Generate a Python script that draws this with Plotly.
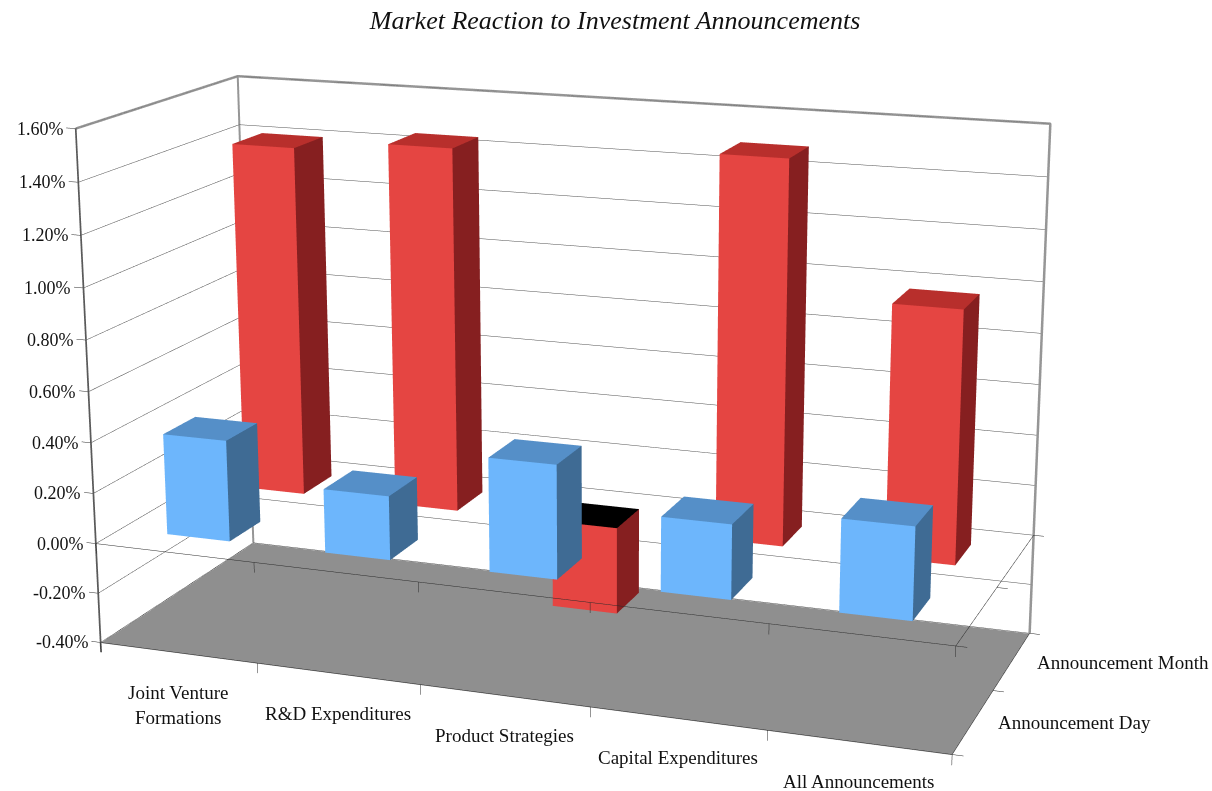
import math
import plotly.graph_objects as go

categories = ["Joint Venture<br>Formations", "R&D Expenditures", "Product Strategies", "Capital Expenditures", "All Announcements"]
series_names = ["Announcement Day", "Announcement Month"]
day_values = [0.40, 0.25, 0.44, 0.285, 0.35]
month_values = [1.41, 1.45, -0.35, 1.495, 0.98]
z_ticks = [-0.4, -0.2, 0.0, 0.2, 0.4, 0.6, 0.8, 1.0, 1.2, 1.4, 1.6]

W, H = 1212, 791
FOCAL = 2900
EYE = (1.111, -2.961, 0.85)
CENTER = (0.043, 0.013, -0.008)
XR, YR, ZR = [-0.1, 5.1], [-0.1, 2.1], [-0.5, 1.7]
ASPECT = (1*5.2/5, 0.392*1.1, 0.598*1.1)
NCAT, NSER = len(categories), len(series_names)
ZLO, ZHI = z_ticks[0], z_ticks[-1]
TX, TZ = 0.06, 0.04  # tick lengths

def box(xc, yc, v):
    w = 0.2
    x0,x1,y0,y1 = xc-w,xc+w,yc-w,yc+w
    z0,z1 = min(0,v),max(0,v)
    xs=[x0,x1,x1,x0,x0,x1,x1,x0]; ys=[y0,y0,y1,y1,y0,y0,y1,y1]; zs=[z0,z0,z0,z0,z1,z1,z1,z1]
    i=[0,0,1,1,4,4]; j=[1,5,2,6,5,6]; k=[5,4,6,5,6,7]
    return xs,ys,zs,i,j,k

LIGHT=dict(ambient=1,diffuse=0,specular=0,fresnel=0,roughness=1)
def bars(values, yc, front, side, top, name, top_neg="#000000"):
    X,Y,Z,I,J,K,C=[],[],[],[],[],[],[]
    for n,v in enumerate(values):
        xs,ys,zs,i,j,k=box(n+0.5,yc,v)
        o=len(X); X+=xs;Y+=ys;Z+=zs;I+=[a+o for a in i];J+=[a+o for a in j];K+=[a+o for a in k]
        C+=[front,front,side,side,top if v>=0 else top_neg,top if v>=0 else top_neg]
    return go.Mesh3d(x=X,y=Y,z=Z,i=I,j=J,k=K,facecolor=C,flatshading=True,name=name,hoverinfo="skip",lighting=LIGHT)
def line(xs,ys,zs,color,width):
    return go.Scatter3d(x=xs,y=ys,z=zs,mode="lines",line=dict(color=color,width=width),hoverinfo="skip",showlegend=False)

fig=go.Figure()
# floor
fz=ZLO-0.002
fig.add_trace(go.Mesh3d(x=[0,NCAT,NCAT,0],y=[0,0,NSER,NSER],z=[fz]*4,i=[0,0],j=[1,2],k=[2,3],facecolor=["#8F8F8F"]*2,flatshading=True,hoverinfo="skip",lighting=LIGHT))
# gridlines on the two walls
GR="#505050"
for t in z_ticks:
    fig.add_trace(line([0,0,NCAT],[0,NSER,NSER],[t,t,t],GR,1))
fig.add_trace(bars(month_values,1.5,"#E54542","#861F20","#B82F2C",series_names[1]))
fig.add_trace(bars(day_values,0.5,"#6DB6FC","#3F6B94","#558FC8",series_names[0]))
G="#969696"
fig.add_trace(line([0,0,NCAT,NCAT],[0,NSER,NSER,NSER],[ZHI,ZHI,ZHI,ZLO],G,5))
fig.add_trace(line([0,0],[NSER,NSER],[ZHI,ZLO],G,4))
fig.add_trace(line([0,0],[0,0],[ZHI,ZLO-TZ],"#5A5A5A",3.5))
D="#2A2A2A"
fig.add_trace(line([0,NCAT,NCAT],[0,0,NSER],[0,0,0],D,1))
fig.add_trace(line([0,NCAT,NCAT],[0,0,NSER],[ZLO,ZLO,ZLO],D,1))
for n in range(NCAT+1):
    fig.add_trace(line([n,n],[0,0],[0,-TZ],D,1))
    fig.add_trace(line([n,n],[0,0],[ZLO,ZLO-TZ],D,1))
for m in range(NSER+1):
    fig.add_trace(line([NCAT,NCAT+TX],[m,m],[0,0],D,1))
    fig.add_trace(line([NCAT,NCAT+TX],[m,m],[ZLO,ZLO],D,1))
for t in z_ticks:
    fig.add_trace(line([0,-TX],[0,0],[t,t],D,1))

TF=dict(family="Liberation Serif",size=18,color="#111111")
CF=dict(family="Liberation Serif",size=19,color="#111111")
ann=[dict(x=0,y=0,z=t,text=f"{t:.2f}%",showarrow=False,xanchor="right",yanchor="middle",xshift=-10,font=TF) for t in z_ticks]
ann+=[dict(x=n+.5,y=0,z=ZLO,text=c,showarrow=False,xanchor="center",yanchor="top",yshift=-27,font=CF) for n,c in enumerate(categories)]
ann+=[dict(x=NCAT,y=m+.5,z=ZLO,text=s,showarrow=False,xanchor="left",yanchor="middle",xshift=23,yshift=-1,font=CF) for m,s in enumerate(series_names)]
ax=dict(showticklabels=False,showgrid=False,zeroline=False,showline=False,showbackground=False,showspikes=False,title="",ticks="")
fig.update_layout(width=W,height=H,margin=dict(l=0,r=0,t=0,b=0),showlegend=False,paper_bgcolor="white",
    title=dict(text="Market Reaction to Investment Announcements",x=.5075,xanchor="center",y=.975,yanchor="middle",
               font=dict(family="Liberation Serif",size=26,style="italic",color="#111")),
    scene=dict(domain=dict(x=[0,1],y=[0,1]),
      xaxis=dict(ax,range=XR),yaxis=dict(ax,range=YR),zaxis=dict(ax,range=ZR),
      aspectmode="manual",aspectratio=dict(x=ASPECT[0],y=ASPECT[1],z=ASPECT[2]),
      camera=dict(eye=dict(zip("xyz",EYE)),center=dict(zip("xyz",CENTER)),up=dict(x=0,y=0,z=1)),
      annotations=ann))

# plotly fixes the field of view at 45 degrees; the reference has a longer lens
fovy = 2*math.atan(H/2/FOCAL)
post = """
document.body.style.margin='0';
var gd=document.getElementById('{plot_id}');
function setLens(){
  var s=gd._fullLayout&&gd._fullLayout.scene&&gd._fullLayout.scene._scene;
  if(!s||!s.glplot){setTimeout(setLens,30);return;}
  s.glplot.fovy=%f; s.glplot.redraw();
}
setLens();
""" % fovy
fig.write_html("out.html", post_script=post, config=dict(displayModeBar=False))
